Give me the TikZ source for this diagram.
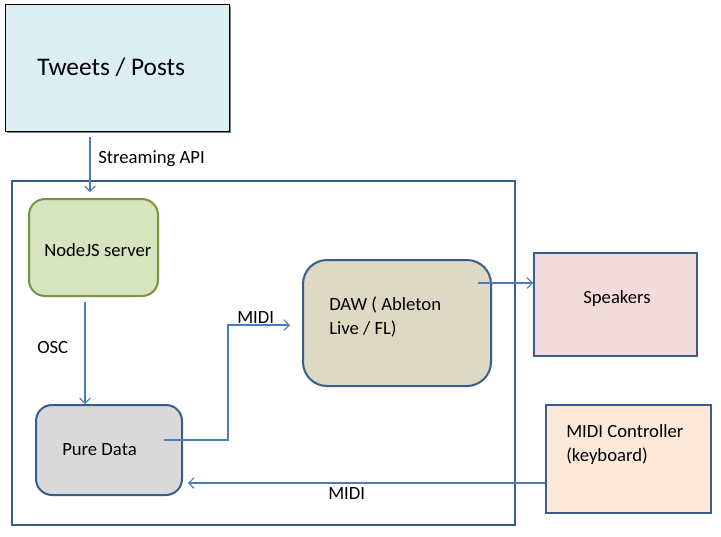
\documentclass[tikz,border=0pt]{standalone}
\usepackage{fontspec}
\setmainfont{Carlito}
\usetikzlibrary{arrows.meta}
\definecolor{frameblue}{HTML}{385D8A}
\definecolor{linkblue}{HTML}{4A7EBB}
\definecolor{tweetfill}{HTML}{DAEEF3}
\definecolor{nodefill}{HTML}{D7E4BD}
\definecolor{nodeborder}{HTML}{77933C}
\definecolor{pdfill}{HTML}{D9D9D9}
\definecolor{dawfill}{HTML}{DDD9C3}
\definecolor{spkfill}{HTML}{F2DCDB}
\definecolor{ctrlfill}{HTML}{FDE9D9}
\tikzset{
  box/.style={draw=frameblue, line width=1.5pt, inner sep=0pt},
  rbox/.style={box, rounded corners=12pt},
  link/.style={draw=linkblue, line width=0.8pt, -{Straight Barb[length=4pt,width=8pt]}},
  lbl/.style={font=\fontsize{14}{17.5}\selectfont, inner sep=0pt},
}
\begin{document}
\begin{tikzpicture}[x=0.75pt,y=-0.75pt]
\useasboundingbox (0,0) rectangle (721,536);
% Tweets box with shadow
\fill[black!50] (7,6) rectangle (231,133);
\node[draw=black, line width=1pt, fill=tweetfill, minimum width=224*0.75pt, minimum height=127*0.75pt, anchor=north west, inner sep=0pt] (tw) at (5,4) {};
\node[lbl, font=\fontsize{19}{22}\selectfont, anchor=west] (twt) at (37,67) {Tweets / Posts};
% big frame
\node[box, minimum width=503*0.75pt, minimum height=344*0.75pt, anchor=north west] (frame) at (11,180) {};
% NodeJS
\node[rbox, draw=nodeborder, fill=nodefill, minimum width=129*0.75pt, minimum height=97*0.75pt, anchor=north west] (nj) at (28,198) {};
\node[lbl, anchor=west] (njt) at (44,250) {NodeJS server};
% Pure Data
\node[rbox, fill=pdfill, minimum width=146*0.75pt, minimum height=90*0.75pt, anchor=north west] (pd) at (35,404) {};
\node[lbl, anchor=west] (pdt) at (62,450) {Pure Data};
% DAW
\node[rbox, rounded corners=18pt, fill=dawfill, minimum width=188*0.75pt, minimum height=126*0.75pt, anchor=north west] (daw) at (302,259) {};
\node[lbl, anchor=base west, align=left] (dawt) at (329,334) {DAW ( Ableton\\Live / FL)};
% Speakers
\node[box, fill=spkfill, minimum width=163*0.75pt, minimum height=103*0.75pt, anchor=north west] (spk) at (533,252) {};
\node[lbl] (spkt) at (617,299) {Speakers};
% MIDI controller
\node[box, fill=ctrlfill, minimum width=165*0.75pt, minimum height=108*0.75pt, anchor=north west] (ctrl) at (545,404) {};
\node[lbl, anchor=base west, align=left] (ctrlt) at (566,461) {MIDI Controller\\(keyboard)};
% coordinates
\coordinate (a1) at (90,137);
\coordinate (a2) at (90,192);
\coordinate (o1) at (85,302);
\coordinate (o2) at (85,404);
\coordinate (m1) at (164,440);
\coordinate (m2) at (228,440);
\coordinate (m3) at (228,325);
\coordinate (m4) at (290,325);
\coordinate (s1) at (478,283);
\coordinate (c1) at (545,483);
\coordinate (c2) at (188,483);
% connectors
\draw[link] (a1) -- (a2);
\draw[link] (o1) -- (o2);
\draw[link] (m1) -- (m2) -- (m3) -- (m4);
\draw[link] (s1) -- (spk.west |- s1);
\draw[link] (c1) -- (c2);
% labels
\node[lbl, anchor=west] (l1) at (98,159) {Streaming API};
\node[lbl, anchor=west] (l2) at (37,348) {OSC};
\node[lbl, anchor=west] (l3) at (237,318) {MIDI};
\node[lbl, anchor=west] (l4) at (328,494) {MIDI};
\end{tikzpicture}
\end{document}
